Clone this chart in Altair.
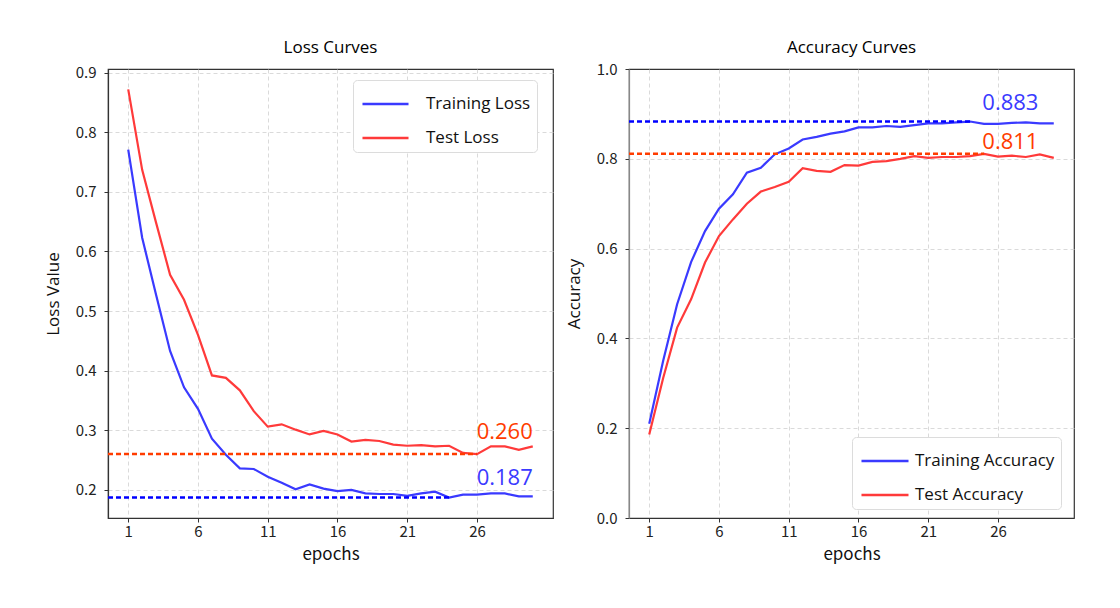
import altair as alt
import pandas as pd

# ---------------- data ----------------
epochs = list(range(1, 31))
train_loss = [0.771, 0.623, 0.527, 0.433, 0.372, 0.336, 0.286, 0.259, 0.236, 0.235,
              0.222, 0.212, 0.201, 0.209, 0.202, 0.198, 0.200, 0.194, 0.193, 0.193,
              0.190, 0.194, 0.197, 0.187, 0.192, 0.192, 0.194, 0.194, 0.189, 0.189]
test_loss = [0.872, 0.737, 0.648, 0.561, 0.519, 0.460, 0.392, 0.388, 0.367, 0.332,
             0.306, 0.310, 0.301, 0.293, 0.299, 0.293, 0.281, 0.284, 0.282, 0.276,
             0.274, 0.275, 0.273, 0.274, 0.262, 0.260, 0.273, 0.273, 0.267, 0.273]
train_acc = [0.210, 0.350, 0.476, 0.570, 0.639, 0.689, 0.721, 0.769, 0.780, 0.810,
             0.823, 0.843, 0.849, 0.856, 0.861, 0.870, 0.870, 0.873, 0.871, 0.875,
             0.879, 0.879, 0.881, 0.883, 0.878, 0.878, 0.880, 0.881, 0.879, 0.879]
test_acc = [0.186, 0.312, 0.424, 0.487, 0.569, 0.628, 0.665, 0.700, 0.727, 0.737,
            0.749, 0.779, 0.773, 0.771, 0.786, 0.785, 0.793, 0.795, 0.800, 0.806,
            0.802, 0.804, 0.804, 0.806, 0.811, 0.805, 0.807, 0.804, 0.810, 0.802]

x_ticks = [1, 6, 11, 16, 21, 26]
loss_ticks = [0.2, 0.3, 0.4, 0.5, 0.6, 0.7, 0.8, 0.9]
acc_ticks = [0.0, 0.2, 0.4, 0.6, 0.8, 1.0]

loss_names = ["Training Loss", "Test Loss"]
acc_names = ["Training Accuracy", "Test Accuracy"]

# ---------------- styles ----------------
BLUE_LINE = "#3a3aff"
RED_LINE = "#ff3a3a"
BLUE_DASH = "#0000ff"
RED_DASH = "#ff3c00"
BLUE_TEXT = "#3a3aff"
RED_TEXT = "#ff3c00"
TXT_FONT = "Open Sans"
JP_FONT = "Noto Sans CJK JP"

span = epochs[-1] - epochs[0]
XMIN = epochs[0] - 0.05 * span
XMAX = epochs[-1] + 0.05 * span
W, H = 445, 449


def long_df(train, test, names):
    rows = []
    for e, v in zip(epochs, train):
        rows.append({"epoch": e, "value": v, "series": names[0]})
    for e, v in zip(epochs, test):
        rows.append({"epoch": e, "value": v, "series": names[1]})
    return pd.DataFrame(rows)


def best(values, mode):
    v = min(values) if mode == "min" else max(values)
    return epochs[values.index(v)], v


def panel(train, test, names, mode, title, title_offset, ytitle, ydomain, yticks,
          legend_xy, symbol_path, label_offset, label_x, label_dys,
          ydomain_color, ymax):
    df = long_df(train, test, names)
    x_enc = alt.X("epoch:Q",
                  scale=alt.Scale(domain=[XMIN, XMAX], nice=False, zero=False),
                  axis=alt.Axis(values=x_ticks, format="d", title="epochs",
                                titleFont=JP_FONT, titleFontSize=17,
                                labelPadding=2, titlePadding=7))
    y_scale = alt.Scale(domain=ydomain, nice=False, zero=False)
    y_axis = alt.Axis(values=yticks, format=".1f", title=ytitle,
                      titleFont=TXT_FONT, titleFontSize=17, titlePadding=13,
                      labelPadding=8, domainColor=ydomain_color,
                      gridOpacity={"condition": {"test": f"datum.value >= {ymax - 1e-6}",
                                                 "value": 0}, "value": 1})
    lines = alt.Chart(df).mark_line(strokeWidth=2.2).encode(
        x=x_enc,
        y=alt.Y("value:Q", scale=y_scale, axis=y_axis),
        color=alt.Color("series:N",
                        scale=alt.Scale(domain=names, range=[BLUE_LINE, RED_LINE]),
                        sort=names,
                        legend=alt.Legend(orient="none", legendX=legend_xy[0],
                                          legendY=legend_xy[1], title=None,
                                          symbolType=symbol_path, symbolSize=1089,
                                          symbolStrokeWidth=2.5,
                                          symbolFillColor="transparent",
                                          labelFont=TXT_FONT, labelFontSize=17,
                                          labelColor="#111", labelOffset=label_offset,
                                          strokeColor="#dcdcdc", fillColor="white",
                                          padding=6, rowPadding=8,
                                          cornerRadius=4)),
    )
    layers = [lines]
    for vals, dcol, tcol, dy in [(train, BLUE_DASH, BLUE_TEXT, label_dys[0]),
                                 (test, RED_DASH, RED_TEXT, label_dys[1])]:
        be, bv = best(vals, mode)
        bdf = pd.DataFrame([{"x0": XMIN, "x1": be, "y": bv,
                             "label": f"{bv:.3f}", "lx": label_x}])
        rule = alt.Chart(bdf).mark_rule(color=dcol, strokeWidth=2.5,
                                        strokeDash=[5, 3]).encode(
            x=alt.X("x0:Q"), x2="x1:Q", y=alt.Y("y:Q"))
        txt = alt.Chart(bdf).mark_text(color=tcol, font=TXT_FONT, fontSize=22,
                                       align="right", baseline="alphabetic",
                                       dy=dy).encode(
            x=alt.X("lx:Q"), y=alt.Y("y:Q"), text="label:N")
        layers += [rule, txt]
    return alt.layer(*layers).properties(
        width=W, height=H,
        title=alt.TitleParams(title, font=TXT_FONT, fontSize=17,
                              fontWeight="normal", offset=title_offset,
                              anchor="middle"))


all_loss = train_loss + test_loss
lo, hi = min(all_loss), max(all_loss)
m = 0.05 * (hi - lo)
left = panel(train_loss, test_loss, loss_names, "min", "Loss Curves", 9, "Loss Value",
             [lo - m, hi + m], loss_ticks, (245, 11), "M-0.88,0H1.91", 31,
             epochs[-1], (-13, -15), "#333333", hi + m)
right = panel(train_acc, test_acc, acc_names, "max", "Accuracy Curves", 5, "Accuracy",
              [0.0, 1.0], acc_ticks, (223, 368), "M-0.88,0H1.97", 21,
              epochs[-1] - 1.1, (-12, -5), "#888888", 1.0)

chart = alt.hconcat(left, right, spacing=10).resolve_scale(
    color="independent").resolve_legend(color="independent").properties(
    padding={"left": 35, "top": 30, "right": 10, "bottom": 10},
    background="white",
).configure_view(stroke="#333333", strokeWidth=1.2).configure_axis(
    grid=True, gridDash=[4, 3], gridColor="#d0d0d0", gridWidth=0.8,
    domainColor="#333333", domainWidth=1.2, tickColor="#333333", tickSize=4,
    labelFont=JP_FONT, labelFontSize=15, labelColor="#222222",
    titleFontWeight="normal", titleColor="#111111",
)

chart.save("out.html", embed_options={"renderer": "svg", "actions": False})
